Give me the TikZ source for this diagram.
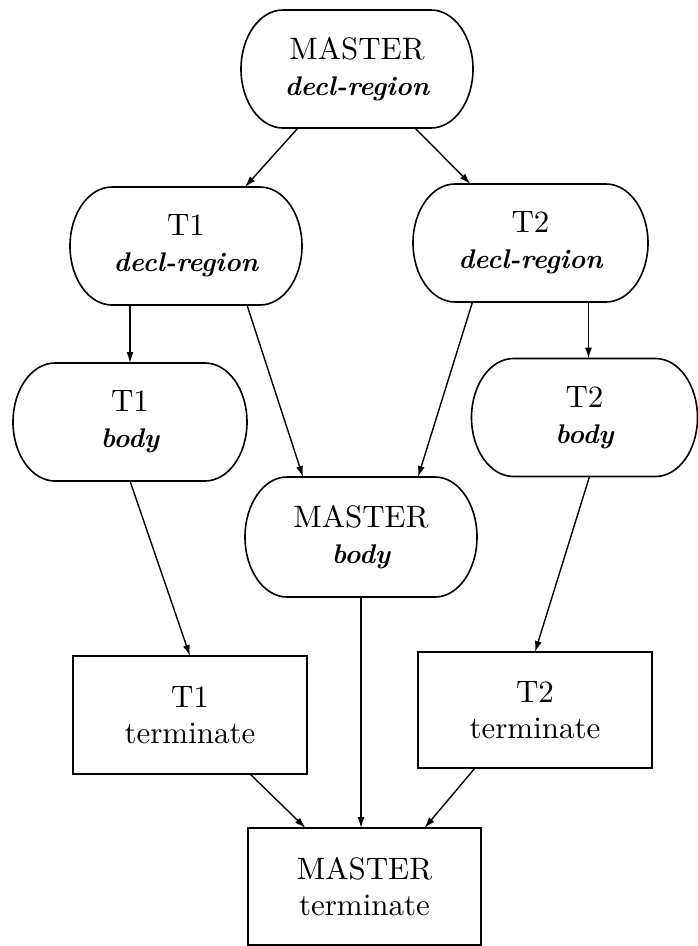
\documentclass[tikz,border=0pt]{standalone}
\usepackage{fontspec}
\setmainfont{lmroman10}[Extension=.otf,UprightFont=*-regular,BoldFont=*-bold,ItalicFont=*-italic,BoldItalicFont=*-bolditalic]
\usetikzlibrary{arrows.meta}
\newcommand\stadiumdraw[2]{%
  \draw[boxline] ([xshift=42pt]#1.north west) -- ([xshift=-42pt]#1.north east)
    arc[start angle=90,end angle=-90,x radius=42pt,y radius=#2]
    -- ([xshift=42pt]#1.south west)
    arc[start angle=270,end angle=90,x radius=42pt,y radius=#2] -- cycle;}
\newcommand\emline[1]{{\fontsize{27}{36}\selectfont\bfseries\itshape #1}}
\begin{document}
\begin{tikzpicture}[x=1pt,y=-1pt,
  box/.style={minimum width=232pt,minimum height=118pt,inner sep=0pt,outer sep=0pt,
    align=center,font=\fontsize{31}{36}\selectfont},
  sqbox/.style={box,draw,line width=1.6pt},
  boxline/.style={line width=1.6pt},
  conn/.style={line width=1.4pt,-{Latex[length=11pt,width=7pt]}}]
\useasboundingbox (0,0) rectangle (698,946);
% rounded (stadium) nodes
\node[box] (md)  at (357,69)    {MASTER\\\emline{decl-region}};
\node[box] (t1d) at (186,246)   {T1\\\emline{decl-region}};
\node[box,minimum width=235pt] (t2d) at (530.5,243) {T2\\\emline{decl-region}};
\node[box,minimum width=234pt] (t1b) at (130,422) {T1\\\emline{body}};
\node[box,minimum width=226pt] (t2b) at (584.5,417.5) {T2\\\emline{body}};
\node[box,minimum height=120pt] (mb) at (361,537) {MASTER\\\emline{body}};
\stadiumdraw{md}{59pt}
\stadiumdraw{t1d}{59pt}
\stadiumdraw{t2d}{59pt}
\stadiumdraw{t1b}{59pt}
\stadiumdraw{t2b}{59pt}
\stadiumdraw{mb}{60pt}
% rectangular nodes
\node[sqbox,minimum width=234pt] (t1t) at (190,715) {T1\\terminate};
\node[sqbox,minimum width=234pt,minimum height=116pt] (t2t) at (535,710) {T2\\terminate};
\node[sqbox,minimum width=233pt,minimum height=117pt] (mt) at (364.5,886.5) {MASTER\\terminate};
% connectors
\draw[conn] ([xshift=-59pt]md.south) -- ([xshift=59pt]t1d.north);
\draw[conn] ([xshift=58pt]md.south) -- ([xshift=-60pt]t2d.north);
\draw[conn] ([xshift=-56pt]t1d.south) -- ([xshift=-56pt]t1d.south |- t1b.north);
\draw[conn] ([xshift=61pt]t1d.south) -- ([xshift=-58pt]mb.north);
\draw[conn] ([xshift=-58pt]t2d.south) -- ([xshift=57pt]mb.north);
\draw[conn] ([xshift=58pt]t2d.south) -- ([xshift=58pt]t2d.south |- t2b.north);
\draw[conn] (t1b.south) -- (t1t.north);
\draw[conn] ([xshift=5pt]t2b.south) -- (t2t.north);
\draw[conn] (mb.south) -- (mb.south |- mt.north);
\draw[conn] ([xshift=60pt]t1t.south) -- ([xshift=-59pt]mt.north);
\draw[conn] ([xshift=-60pt]t2t.south) -- ([xshift=60pt]mt.north);
\end{tikzpicture}
\end{document}
